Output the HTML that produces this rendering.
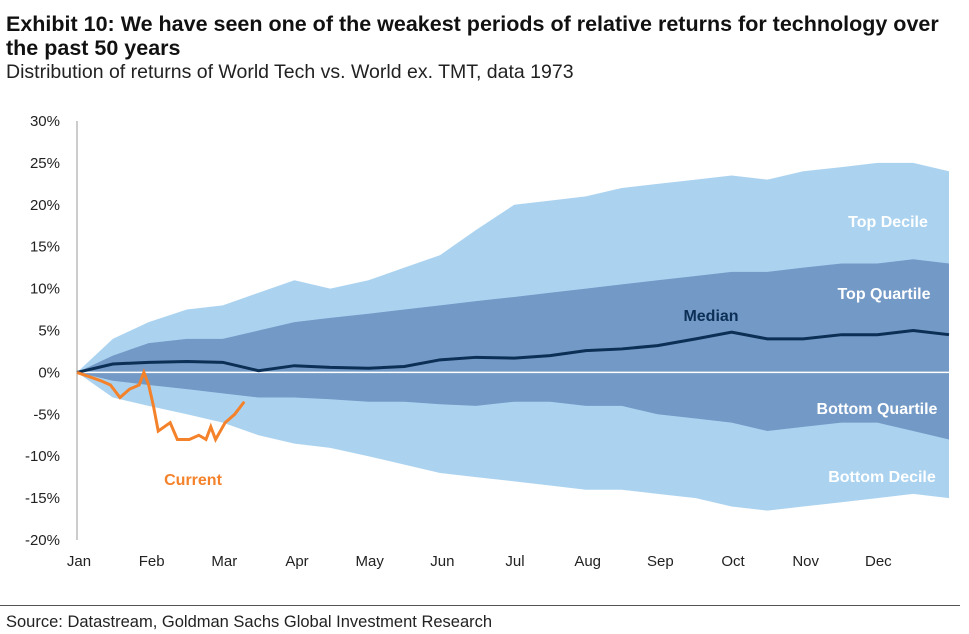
<!DOCTYPE html>
<html><head><meta charset="utf-8"><style>
body{margin:0;background:#fff;font-family:"Liberation Sans",sans-serif;}
#wrap{position:relative;width:969px;height:634px;overflow:hidden;}
.t{position:absolute;left:6px;font-weight:bold;font-size:21.5px;line-height:24px;color:#111;white-space:nowrap;}
</style></head><body>
<div id="wrap">
<div class="t" style="top:12px">Exhibit 10: We have seen one of the weakest periods of relative returns for technology over<br>the past 50 years</div>
<div style="position:absolute;left:6px;top:61px;font-size:19.5px;color:#222;white-space:nowrap">Distribution of returns of World Tech vs. World ex. TMT, data 1973</div>
<svg id="c" width="969" height="634" style="position:absolute;left:0;top:0"></svg>
<div style="position:absolute;left:0;top:605px;width:960px;border-top:1px solid #555"></div>
<div style="position:absolute;left:6px;top:613px;font-size:16.5px;color:#222;white-space:nowrap">Source: Datastream, Goldman Sachs Global Investment Research</div>
</div>
<script>
const days=[0,15,30,46,61,76,91,106,122,137,152,167,183,198,213,228,243,259,274,289,304,320,335,350,365];
const topDecile=[0,4,6,7.5,8,9.5,11,10,11,12.5,14,17,20,20.5,21,22,22.5,23,23.5,23,24,24.5,25,25,24];
const topQuartile=[0,2,3.5,4,4,5,6,6.5,7,7.5,8,8.5,9,9.5,10,10.5,11,11.5,12,12,12.5,13,13,13.5,13];
const median=[0,1,1.2,1.3,1.2,0.2,0.8,0.6,0.5,0.7,1.5,1.8,1.7,2,2.6,2.8,3.2,4,4.8,4,4,4.5,4.5,5,4.5];
const bottomQuartile=[0,-1,-1.5,-2,-2.5,-3,-3,-3.2,-3.5,-3.5,-3.8,-4,-3.5,-3.5,-4,-4,-5,-5.5,-6,-7,-6.5,-6,-6,-7,-8];
const bottomDecile=[0,-3,-4,-5,-6,-7.5,-8.5,-9,-10,-11,-12,-12.5,-13,-13.5,-14,-14,-14.5,-15,-16,-16.5,-16,-15.5,-15,-14.5,-15];
const currentDays=[0,5,10,14,18,22,26,28,30,32,34,39,42,47,51,54,56,58,62,66,70];
const currentVals=[0,-0.5,-1,-1.5,-3,-2,-1.5,0,-1.5,-4,-7,-6,-8,-8,-7.5,-8,-6.5,-8,-6,-5,-3.5];
const yTicks=[30,25,20,15,10,5,0,-5,-10,-15,-20];
const months=["Jan","Feb","Mar","Apr","May","Jun","Jul","Aug","Sep","Oct","Nov","Dec"];
const X0=77,X1=949,Y30=121,YM20=540;
const x=d=>X0+d*(X1-X0)/365;
const y=v=>Y30+(30-v)*(YM20-Y30)/50;
const svg=document.getElementById('c');const NS='http://www.w3.org/2000/svg';
function mk(t,a){const e=document.createElementNS(NS,t);for(const k in a)e.setAttribute(k,a[k]);svg.appendChild(e);return e;}
function band(up,lo,fill,name){let d='M'+days.map((dd,i)=>x(dd)+','+y(up[i])).join('L');
 for(let i=days.length-1;i>=0;i--)d+='L'+x(days[i])+','+y(lo[i]);
 const p=mk('path',{d:d+'Z',fill:fill});}
band(topDecile,bottomDecile,'#abd3f0','decile-band');
band(topQuartile,bottomQuartile,'#7399c6','quartile-band');
const z=mk('line',{x1:X0,x2:X1,y1:y(0),y2:y(0),stroke:'#fff','stroke-width':1.5});

const ax=mk('line',{x1:X0,x2:X0,y1:Y30,y2:YM20,stroke:'#999','stroke-width':1});

const m=mk('polyline',{points:days.map((d,i)=>x(d)+','+y(median[i])).join(' '),fill:'none',stroke:'#0b2f55','stroke-width':3});

const cu=mk('polyline',{points:currentDays.map((d,i)=>x(d)+','+y(currentVals[i])).join(' '),fill:'none',stroke:'#f4822a','stroke-width':3});

yTicks.forEach(v=>{const t=mk('text',{x:60,y:y(v)+5,'text-anchor':'end','font-size':15,fill:'#222'});t.textContent=v+'%';
 });
months.forEach((mo,i)=>{const t=mk('text',{x:x(i*365/12)+2,y:566,'text-anchor':'middle','font-size':15,fill:'#222'});t.textContent=mo;
 });
[["Top Decile",888,227,'#fff','label-top-decile'],["Top Quartile",884,299,'#fff','label-top-quartile'],["Median",711,321,'#0b2f55','label-median'],
 ["Bottom Quartile",877,414,'#fff','label-bottom-quartile'],["Bottom Decile",882,482,'#fff','label-bottom-decile'],["Current",193,485,'#f4822a','label-current']].forEach(a=>{
 const t=mk('text',{x:a[1],y:a[2],'text-anchor':'middle','font-size':16,'font-weight':'bold',fill:a[3]});t.textContent=a[0];
 });
</script>
</body></html>
